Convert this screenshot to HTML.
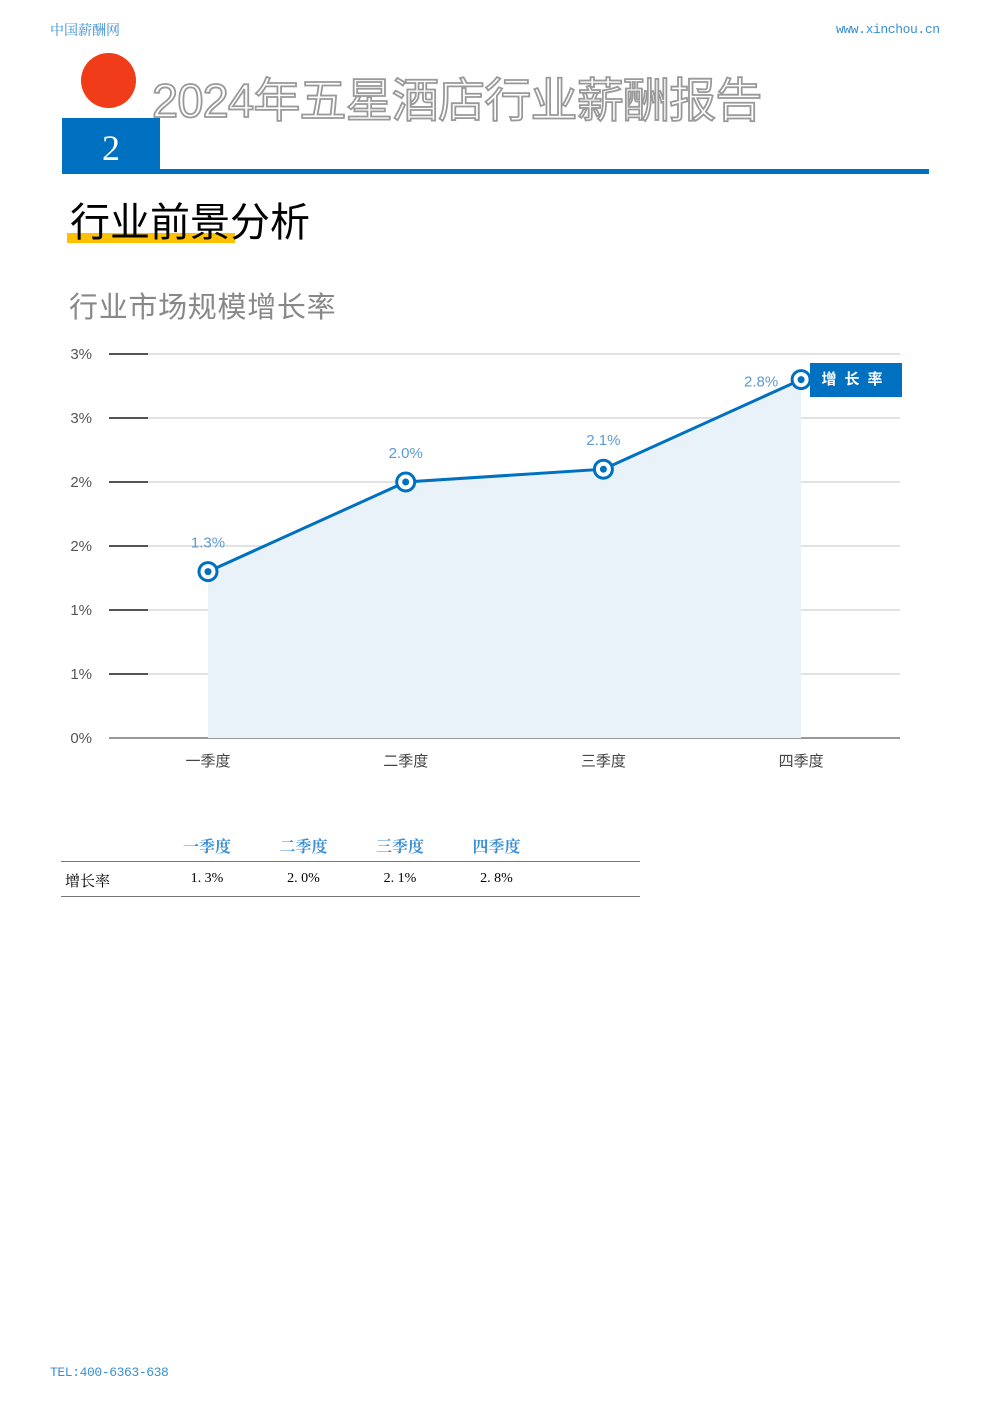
<!DOCTYPE html>
<html><head><meta charset="utf-8"><style>
body{margin:0;width:992px;height:1403px;background:#fff;position:relative;font-family:"Liberation Sans","Noto Sans CJK SC",sans-serif;overflow:hidden}
.a{position:absolute}
</style></head><body>
<div class="a" style="left:50px;top:20px;font-size:14px;color:#3a8fd6;font-family:'Liberation Serif','Noto Serif CJK SC',serif">中国薪酬网</div>
<div class="a" style="left:836px;top:22px;font-size:13px;color:#3a8fd6;font-family:'Liberation Mono',monospace;letter-spacing:-0.4px">www.xinchou.cn</div>
<div class="a" style="left:81px;top:53px;width:55px;height:55px;border-radius:50%;background:#f03c18"></div>
<div class="a" style="left:152px;top:62px;font-size:47px;color:#fff;-webkit-text-stroke:1.8px #999;white-space:nowrap;letter-spacing:-0.8px">2024年五星酒店行业薪酬报告</div>
<div class="a" style="left:62px;top:118px;width:98px;height:56px;background:#0070c0;color:#fff;font-size:36px;text-align:center;line-height:60px;font-family:'Liberation Serif',serif">2</div>
<div class="a" style="left:62px;top:169px;width:867px;height:5px;background:#0070c0"></div>
<div class="a" style="left:67px;top:233px;width:168px;height:10px;background:#ffc000"></div>
<div class="a" style="left:70px;top:190px;font-size:40px;color:#000">行业前景分析</div>
<div class="a" style="left:69px;top:284px;font-size:29px;color:#888;letter-spacing:0.7px">行业市场规模增长率</div>
<svg class="a" style="left:0;top:0" width="992" height="800" id="chart"></svg>
<div class="a" style="left:810px;top:363px;width:92px;height:34px;background:#0070c0;color:#fff;font-size:15px;line-height:34px;text-align:center;letter-spacing:8px;font-weight:bold">增长率</div>
<div class="a" style="left:61px;top:830px;width:579px;font-family:'Liberation Serif','Noto Serif CJK SC',serif">
 <div style="position:absolute;left:0;top:31px;width:579px;height:1px;background:#777"></div>
 <div style="position:absolute;left:0;top:66px;width:579px;height:1px;background:#777"></div>
 <div style="position:absolute;left:4px;top:40px;font-size:15px">增长率</div>
 <div id="tbl"></div>
</div>
<div class="a" style="left:50px;top:1365px;font-size:13px;color:#3a8fd6;font-family:'Liberation Mono',monospace;letter-spacing:-0.4px">TEL:400-6363-638</div>
<script>
const categories=["一季度","二季度","三季度","四季度"];
const values=[1.3,2.0,2.1,2.8];
const labels=["1.3%","2.0%","2.1%","2.8%"];
const tickVals=[0,0.5,1,1.5,2,2.5,3];
const tickLabels=["0%","1%","1%","2%","2%","3%","3%"];
const tableVals=["1. 3%","2. 0%","2. 1%","2. 8%"];
const ns="http://www.w3.org/2000/svg",svg=document.getElementById('chart');
const y=v=>738-v*128, x=i=>208+i*197.7;
function mk(t,a){const e=document.createElementNS(ns,t);for(const k in a)e.setAttribute(k,a[k]);svg.appendChild(e);return e;}
tickVals.forEach((v,i)=>{
 const g=mk('line',{x1:109,x2:900,y1:y(v),y2:y(v),stroke:i==0?'#333':'#d9d9d9','stroke-width':i==0?1:1.5});
 
 
 if(i>0){const tk=mk('line',{x1:109,x2:148,y1:y(v),y2:y(v),stroke:'#222','stroke-width':1.5});}
 const t=mk('text',{x:92,y:y(v)+5,'text-anchor':'end','font-size':15,fill:'#555'});t.textContent=tickLabels[i];
 
 
});
let area=`M${x(0)},738`;values.forEach((v,i)=>area+=`L${x(i)},${y(v)}`);area+=`L${x(values.length-1)},738Z`;
const ar=mk('path',{d:area,fill:'#e9f1f9'});


const ln=mk('polyline',{points:values.map((v,i)=>x(i)+','+y(v)).join(' '),fill:'none',stroke:'#0070c0','stroke-width':3});


values.forEach((v,i)=>{
 const c=mk('circle',{cx:x(i),cy:y(v),r:9,fill:'#fff',stroke:'#0070c0','stroke-width':3});
 
 
 mk('circle',{cx:x(i),cy:y(v),r:3.5,fill:'#0070c0'});
 const t=mk('text',{x:i==3?x(i)-40:x(i),y:y(v)-(i==3?-7:24),'text-anchor':'middle','font-size':15,fill:'#5b9bd5'});t.textContent=labels[i];
 
 
 const c2=mk('text',{x:x(i),y:766,'text-anchor':'middle','font-size':15,fill:'#444'});c2.textContent=categories[i];
 
 
});
const tb=document.getElementById('tbl');
categories.forEach((c,i)=>{
 const h=document.createElement('div');h.style.cssText=`position:absolute;left:${146+i*96.5-40}px;width:80px;text-align:center;top:4px;font-size:16px;color:#3a8fd6;font-weight:bold`;h.textContent=c;
 
 
 tb.appendChild(h);
 const d=document.createElement('div');d.style.cssText=`position:absolute;left:${146+i*96.5-40}px;width:80px;text-align:center;top:41px;font-size:14px`;d.textContent=tableVals[i];
 
 
 tb.appendChild(d);
});
</script>
</body></html>
